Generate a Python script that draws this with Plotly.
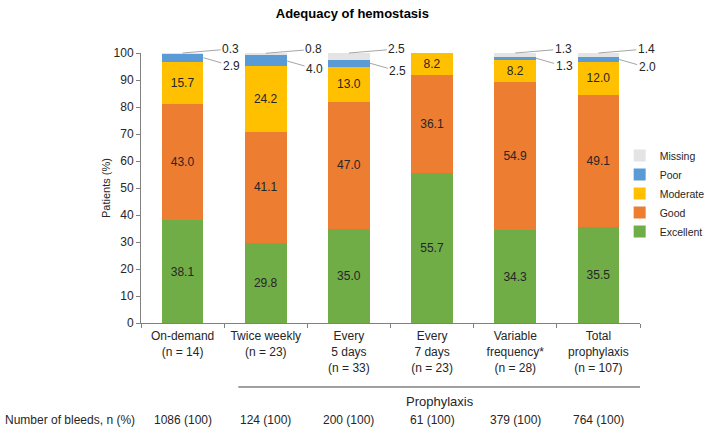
import plotly.graph_objects as go

categories = ["On-demand<br>(n = 14)", "Twice weekly<br>(n = 23)", "Every<br>5 days<br>(n = 33)",
              "Every<br>7 days<br>(n = 23)", "Variable<br>frequency*<br>(n = 28)", "Total<br>prophylaxis<br>(n = 107)"]
excellent = [38.1, 29.8, 35.0, 55.7, 34.3, 35.5]
good = [43.0, 41.1, 47.0, 36.1, 54.9, 49.1]
moderate = [15.7, 24.2, 13.0, 8.2, 8.2, 12.0]
poor = [2.9, 4.0, 2.5, 0.0, 1.3, 2.0]
missing = [0.3, 0.8, 2.5, 0.0, 1.3, 1.4]
bleeds = ["1086 (100)", "124 (100)", "200 (100)", "61 (100)", "379 (100)", "764 (100)"]

colors = {"Excellent": "#70AD47", "Good": "#ED7D31", "Moderate": "#FFC000",
          "Poor": "#5B9BD5", "Missing": "#E4E4E4"}
FONT = "Liberation Sans, Arial, sans-serif"
TXT = "#262626"

fig = go.Figure()
series = [("Excellent", excellent, True), ("Good", good, True), ("Moderate", moderate, True),
          ("Poor", poor, False), ("Missing", missing, False)]
for name, vals, lab in series:
    fig.add_trace(go.Bar(
        x=categories, y=vals, name=name, marker_color=colors[name], marker_line_width=0,
        width=0.5,
        text=[f"{v:.1f}" if (lab and v > 0) else "" for v in vals],
        textposition="inside", insidetextanchor="middle", textangle=0,
        textfont=dict(family=FONT, size=12, color=TXT), constraintext="none",
        hoverinfo="skip"))

annotations = []
for i in range(len(categories)):
    if missing[i] > 0:
        top = excellent[i] + good[i] + moderate[i] + poor[i] + missing[i]
        annotations.append(dict(x=i, y=top, xref="x", yref="y", text=f"{missing[i]:.1f}",
                                showarrow=True, arrowhead=0, arrowwidth=1, arrowcolor="#A6A6A6",
                                ax=48, ay=-4, standoff=0,
                                font=dict(family=FONT, size=12, color=TXT)))
    if poor[i] > 0:
        mid = excellent[i] + good[i] + moderate[i] + poor[i] / 2
        annotations.append(dict(x=i + 0.25, y=mid, xref="x", yref="y", text=f"{poor[i]:.1f}",
                                showarrow=True, arrowhead=0, arrowwidth=1, arrowcolor="#A6A6A6",
                                ax=28, ay=8, standoff=0,
                                font=dict(family=FONT, size=12, color=TXT)))
for i, b in enumerate(bleeds):
    annotations.append(dict(x=i, y=-0.358, xref="x", yref="paper", yanchor="middle", text=b,
                            showarrow=False, font=dict(family=FONT, size=12, color=TXT)))
annotations.append(dict(x=-0.277, y=-0.358, xref="paper", yref="paper", xanchor="left",
                        yanchor="middle", text="Number of bleeds, n (%)", showarrow=False,
                        font=dict(family=FONT, size=12, color=TXT)))
annotations.append(dict(x=3.09, y=-0.292, xref="x", yref="paper", yanchor="middle",
                        text="Prophylaxis", showarrow=False,
                        font=dict(family=FONT, size=13, color=TXT)))

fig.add_shape(type="line", xref="x", yref="paper", x0=0.67, x1=5.5, y0=-0.237, y1=-0.237,
              line=dict(color="#404040", width=1))

fig.update_layout(
    width=709, height=437, autosize=False, barmode="stack",
    paper_bgcolor="white", plot_bgcolor="white",
    margin=dict(l=141, r=69, t=53, b=114, autoexpand=False),
    title=dict(text="<b>Adequacy of hemostasis</b>", x=0.497, xref="container",
               y=1 - 13 / 437, yref="container", yanchor="middle", xanchor="center",
               font=dict(family=FONT, size=13, color="#000000")),
    font=dict(family=FONT, size=12, color=TXT),
    legend=dict(traceorder="reversed", xref="container", yref="container",
                x=0.874, xanchor="left", y=1 - 141 / 437, yanchor="top",
                font=dict(family=FONT, size=10.5, color=TXT), bgcolor="rgba(0,0,0,0)",
                tracegroupgap=0, itemwidth=30),
    annotations=annotations, showlegend=True,
)
fig.update_xaxes(type="category", range=[-0.5, 5.5], tickson="boundaries", ticks="outside",
                 ticklen=4, tickcolor="#808080", showline=True, linecolor="#808080", linewidth=1,
                 tickfont=dict(family=FONT, size=12, color=TXT), showgrid=False,
                 ticklabelstandoff=2)
fig.update_yaxes(range=[0, 100], dtick=10, ticks="outside", ticklen=4, tickcolor="#808080",
                 showline=True, linecolor="#808080", linewidth=1, showgrid=False, zeroline=False,
                 tickfont=dict(family=FONT, size=12, color=TXT),
                 title=dict(text="Patients (%)", font=dict(family=FONT, size=11, color=TXT),
                            standoff=0))

fig.write_html("out.html", config={"responsive": False, "displayModeBar": False},
               post_script="document.body.style.margin='0';document.body.style.overflow='hidden';")
